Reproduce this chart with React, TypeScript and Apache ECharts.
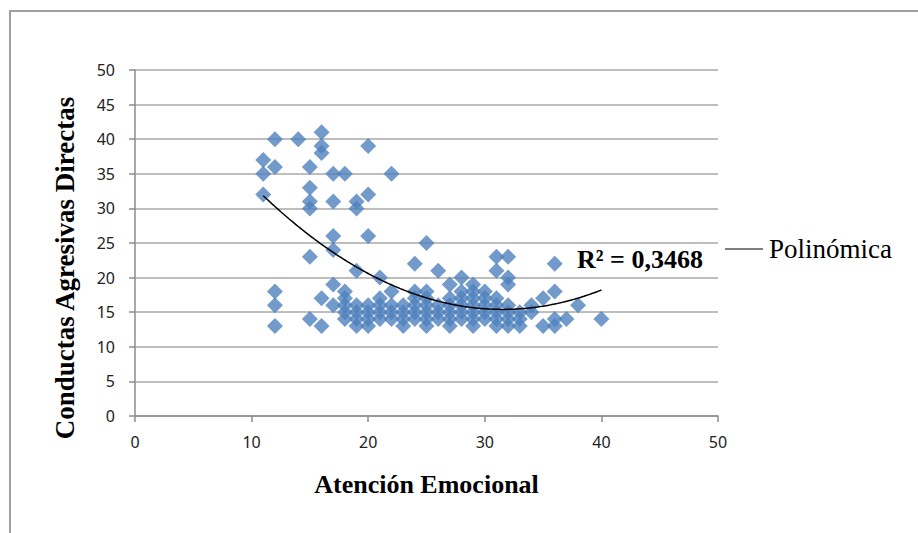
import React, { useEffect, useRef } from "react";
import * as echarts from "echarts";

// Atención Emocional (x) and Conductas Agresivas Directas (y), paired by index
const atencion = [
  11, 11, 11,
  12, 12, 12, 12, 12,
  14,
  15, 15, 15, 15, 15, 15,
  16, 16, 16, 16, 16,
  17, 17, 17, 17, 17, 17,
  18, 18, 18, 18, 18, 18,
  19, 19, 19, 19, 19, 19, 19,
  20, 20, 20, 20, 20, 20, 20,
  21, 21, 21, 21, 21,
  22, 22, 22, 22, 22,
  23, 23, 23, 23,
  24, 24, 24, 24, 24, 24,
  25, 25, 25, 25, 25, 25, 25,
  26, 26, 26, 26,
  27, 27, 27, 27, 27, 27,
  28, 28, 28, 28, 28, 28,
  29, 29, 29, 29, 29, 29, 29,
  30, 30, 30, 30, 30,
  31, 31, 31, 31, 31, 31, 31,
  32, 32, 32, 32, 32, 32, 32,
  33, 33, 33,
  34, 34,
  35, 35,
  36, 36, 36, 36,
  37,
  38,
  40,
];
const conductas = [
  37, 35, 32,
  40, 36, 18, 16, 13,
  40,
  36, 33, 31, 30, 23, 14,
  41, 39, 38, 17, 13,
  35, 31, 26, 24, 19, 16,
  35, 18, 17, 16, 15, 14,
  31, 30, 21, 16, 15, 14, 13,
  39, 32, 26, 16, 15, 14, 13,
  20, 17, 16, 15, 14,
  35, 18, 16, 15, 14,
  16, 15, 14, 13,
  22, 18, 17, 16, 15, 14,
  25, 18, 17, 16, 15, 14, 13,
  21, 16, 15, 14,
  19, 17, 16, 15, 14, 13,
  20, 18, 17, 16, 15, 14,
  19, 18, 17, 16, 15, 14, 13,
  18, 17, 16, 15, 14,
  23, 21, 17, 16, 15, 14, 13,
  23, 20, 19, 16, 15, 14, 13,
  15, 14, 13,
  16, 15,
  17, 13,
  22, 18, 14, 13,
  14,
  16,
  14,
];

const xTitle = "Atención Emocional";
const yTitle = "Conductas Agresivas Directas";
const trendName = "Polinómica";
const r2Label = "R² = 0,3468";

// least-squares quadratic fit (Excel "Polinómica" order 2)
function fitQuadratic(xs: number[], ys: number[]) {
  const n = xs.length;
  let s0 = n, s1 = 0, s2 = 0, s3 = 0, s4 = 0, t0 = 0, t1 = 0, t2 = 0;
  for (let i = 0; i < n; i++) {
    const x = xs[i], y = ys[i];
    s1 += x; s2 += x * x; s3 += x * x * x; s4 += x * x * x * x;
    t0 += y; t1 += x * y; t2 += x * x * y;
  }
  const M = [
    [s0, s1, s2, t0],
    [s1, s2, s3, t1],
    [s2, s3, s4, t2],
  ];
  for (let c = 0; c < 3; c++) {
    let p = c;
    for (let r = c + 1; r < 3; r++) if (Math.abs(M[r][c]) > Math.abs(M[p][c])) p = r;
    [M[c], M[p]] = [M[p], M[c]];
    for (let r = 0; r < 3; r++) {
      if (r === c) continue;
      const f = M[r][c] / M[c][c];
      for (let k = c; k < 4; k++) M[r][k] -= f * M[c][k];
    }
  }
  return [M[0][3] / M[0][0], M[1][3] / M[1][1], M[2][3] / M[2][2]];
}

export default function App() {
  const ref = useRef<HTMLDivElement>(null);
  useEffect(() => {
    if (!ref.current) return;
    const chart = echarts.init(ref.current, null, { renderer: "svg" });
    const points = atencion.map((x, i) => [x, conductas[i]]);
    const [a0, a1, a2] = fitQuadratic(atencion, conductas);
    const xmin = Math.min(...atencion);
    const xmax = Math.max(...atencion);
    const trend: number[][] = [];
    for (let x = xmin; x <= xmax + 1e-9; x += 0.25) trend.push([x, a0 + a1 * x + a2 * x * x]);

    const serif = "'Liberation Serif', 'Times New Roman', serif";
    const sans = "'Noto Sans', 'Open Sans', sans-serif";

    chart.setOption({
      animation: false,
      backgroundColor: "#ffffff",
      grid: { left: 135, right: 200, top: 70, bottom: 117 },
      xAxis: {
        type: "value",
        min: 0,
        max: 50,
        interval: 10,
        name: xTitle,
        nameLocation: "middle",
        nameGap: 55,
        nameTextStyle: { fontFamily: serif, fontWeight: "bold", fontSize: 26, color: "#000" },
        axisLine: { show: true, onZero: false, lineStyle: { color: "#8c8c8c", width: 1.5 } },
        axisTick: { show: true, length: 6, lineStyle: { color: "#8c8c8c", width: 1.5 } },
        axisLabel: { fontFamily: sans, fontSize: 16, color: "#222", margin: 18 },
        splitLine: { show: false },
      },
      yAxis: {
        type: "value",
        min: 0,
        max: 50,
        interval: 5,
        axisLine: { show: true, onZero: false, lineStyle: { color: "#8c8c8c", width: 1.5 } },
        axisTick: { show: true, length: 6, lineStyle: { color: "#8c8c8c", width: 1.5 } },
        axisLabel: { fontFamily: sans, fontSize: 16, color: "#222", margin: 20 },
        splitLine: { show: true, lineStyle: { color: "#a8a8a8", width: 1.5 } },
      },
      series: [
        {
          type: "scatter",
          name: "Datos",
          data: points,
          symbol: "diamond",
          symbolSize: 16,
          itemStyle: { color: "#4F81BD" },
          z: 2,
        },
        {
          type: "line",
          name: trendName,
          data: trend,
          showSymbol: false,
          smooth: true,
          lineStyle: { color: "#000", width: 1.5 },
          z: 3,
        },
      ],
      graphic: [
        {
          type: "rect",
          shape: { x: 10, y: 11, width: 1000, height: 1000 },
          style: { fill: "none", stroke: "#a0a0a0", lineWidth: 2 },
          z: -10,
          silent: true,
        },
        {
          type: "text",
          x: 65,
          y: 268,
          rotation: Math.PI / 2,
          style: {
            text: yTitle,
            font: `bold 27px ${serif}`,
            fill: "#000",
            align: "center",
            verticalAlign: "middle",
          },
        },
        {
          type: "text",
          x: 577,
          y: 259,
          style: {
            text: r2Label,
            font: `bold 26px ${serif}`,
            fill: "#000",
            verticalAlign: "middle",
          },
          z: 10,
        },
        {
          type: "line",
          shape: { x1: 725, y1: 249, x2: 763, y2: 249 },
          style: { stroke: "#000", lineWidth: 1.2 },
        },
        {
          type: "text",
          x: 769,
          y: 249,
          style: {
            text: trendName,
            font: `27px ${serif}`,
            fill: "#000",
            verticalAlign: "middle",
          },
        },
      ],
    });
    return () => chart.dispose();
  }, []);
  return (
    <div
      ref={ref}
      style={{ position: "absolute", left: 0, top: 0, width: 918, height: 533 }}
    />
  );
}
